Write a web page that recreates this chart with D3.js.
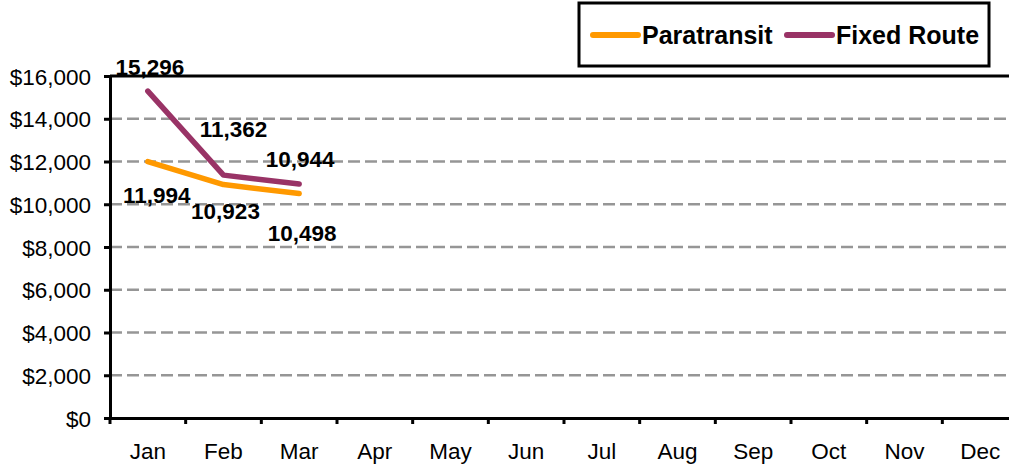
<!DOCTYPE html>
<html><head><meta charset="utf-8">
<script src="https://cdn.jsdelivr.net/npm/d3@7"></script>
<style>
html,body{margin:0;padding:0;background:#fff;overflow:hidden}
text{font-family:"Liberation Sans",Arial,sans-serif}
</style></head>
<body><svg id="c" width="1009" height="469"></svg>
<script>
const months = ["Jan","Feb","Mar","Apr","May","Jun","Jul","Aug","Sep","Oct","Nov","Dec"];
const paratransit = [11994, 10923, 10498];
const fixedRoute = [15296, 11362, 10944];
const yTicks = [0,2000,4000,6000,8000,10000,12000,14000,16000];
const seriesNames = ["Paratransit","Fixed Route"];
const seriesColors = ["#FF9900","#993366"];
// label offsets (dx, dy baseline) relative to each point
const paraLabelOff = [[9,41],[2,34],[3,47]];
const fixedLabelOff = [[2,-16],[10,-38],[1,-17]];

const svg = d3.select("#c");
const L=110, R=1018, T=76, B=418;
const x = d3.scaleBand().domain(months).range([L,R]);
const y = d3.scaleLinear().domain([0,16000]).range([B,T]);

// gridlines
svg.append("g").selectAll("line").data(yTicks.filter(d=>d>0&&d<16000)).join("line")
  .attr("x1",L).attr("x2",R).attr("y1",d=>y(d)).attr("y2",d=>y(d))
  .attr("stroke","#969696").attr("stroke-width",2.7).attr("stroke-dasharray","12,5");

// top border
svg.append("line").attr("x1",L).attr("x2",R).attr("y1",T).attr("y2",T)
  .attr("stroke","#000").attr("stroke-width",3);

// y axis
const yAxis = svg.append("g").attr("transform",`translate(${L},0)`)
  .call(d3.axisLeft(y).tickValues(yTicks).tickSize(6).tickPadding(13)
    .tickFormat(d=>"$"+d3.format(",")(d)));
yAxis.select(".domain").attr("stroke","#000").attr("stroke-width",3);
yAxis.selectAll(".tick line").attr("stroke","#000").attr("stroke-width",3);
yAxis.selectAll(".tick text").attr("font-size",22.5).attr("fill","#000").attr("dy","0.36em");

// x axis
const xAxis = svg.append("g").attr("transform",`translate(0,${B})`)
  .call(d3.axisBottom(x).tickSize(0).tickPadding(25));
xAxis.select(".domain").attr("stroke","#000").attr("stroke-width",3);
xAxis.selectAll(".tick text").attr("font-size",22.5).attr("fill","#000");
// x tick marks at band boundaries
svg.append("g").selectAll("line").data(months).join("line")
  .attr("x1",d=>x(d)).attr("x2",d=>x(d)).attr("y1",B).attr("y2",B+6)
  .attr("stroke","#000").attr("stroke-width",3);

const cx = d => x(d)+x.bandwidth()/2;
const line = d3.line().x((d,i)=>cx(months[i])).y(d=>y(d));
[paratransit, fixedRoute].forEach((s,k)=>{
  svg.append("path").datum(s).attr("d",line).attr("fill","none")
    .attr("stroke",seriesColors[k]).attr("stroke-width",5.5).attr("stroke-linecap","round").attr("stroke-linejoin","round");
});
// data labels
[[paratransit,paraLabelOff],[fixedRoute,fixedLabelOff]].forEach(([s,off])=>{
  svg.append("g").selectAll("text").data(s).join("text")
    .attr("x",(d,i)=>cx(months[i])+off[i][0]).attr("y",(d,i)=>y(d)+off[i][1])
    .attr("text-anchor","middle").attr("font-size",22.5).attr("font-weight","bold")
    .text(d=>d3.format(",")(d));
});

// legend
const lg = svg.append("g");
lg.append("rect").attr("x",579).attr("y",3).attr("width",410).attr("height",63)
  .attr("fill","#fff").attr("stroke","#000").attr("stroke-width",3);
const lx = [593, 787];
seriesNames.forEach((n,k)=>{
  lg.append("line").attr("x1",lx[k]).attr("x2",lx[k]+45).attr("y1",35).attr("y2",35)
    .attr("stroke",seriesColors[k]).attr("stroke-width",6).attr("stroke-linecap","round");
  lg.append("text").attr("x",lx[k]+49).attr("y",44).attr("font-size",25).attr("font-weight","bold").text(n);
});
</script></body></html>
